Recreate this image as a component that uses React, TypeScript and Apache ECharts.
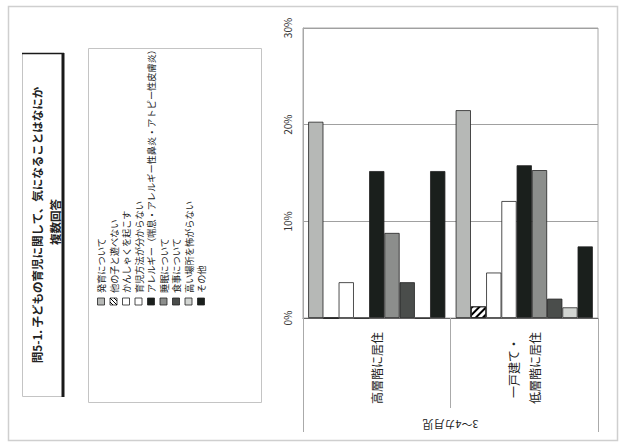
import React, { useEffect, useRef } from 'react';
import * as echarts from 'echarts';

const titleLine1 = '問5-1. 子どもの育児に関して、気になることはなにか';
const titleLine2 = '複数回答';

const categories = ['高層階に居住', '一戸建て・\n低層階に居住'];
const groupLabel = ['3～4カ月児'];

const seriesNames = [
  '発育について',
  '他の子と遊べない',
  'かんしゃくを起こす',
  '育児方法が分からない',
  'アレルギー（喘息・アレルギー性鼻炎・アトピー性皮膚炎）',
  '睡眠について',
  '食事について',
  '高い場所を怖がらない',
  'その他',
];

// values in %
const hatsuiku = [20.3, 21.5];
const asobenai = [0, 1.2];
const kanshaku = [3.7, 4.7];
const ikujiHouhou = [0, 12.1];
const allergy = [15.2, 15.8];
const suimin = [8.8, 15.3];
const shokuji = [3.7, 2.0];
const takaiBasho = [0, 1.1];
const sonota = [15.2, 7.4];

const seriesData = [hatsuiku, asobenai, kanshaku, ikujiHouhou, allergy, suimin, shokuji, takaiBasho, sonota];

const colors = ['#b6b8b6', '#ffffff', '#ffffff', '#ffffff', '#1a1f1c', '#8c8e8c', '#4a4d4b', '#d2d5d2', '#1a1f1c'];

const FONT = '"Noto Sans CJK JP", "Noto Sans", sans-serif';

export default function App() {
  const ref = useRef<HTMLDivElement>(null);
  useEffect(() => {
    if (!ref.current) return;
    const chart = echarts.init(ref.current, undefined, { renderer: 'svg' });

    const legendX0 = 101;
    const legendStep = 12.5;
    const legendGraphics: any[] = [];
    seriesNames.forEach((name, i) => {
      const x = legendX0 + i * legendStep;
      legendGraphics.push({
        type: 'rect',
        shape: { x: x - 3.5, y: 298, width: 7, height: 7 },
        style: { fill: colors[i], stroke: '#222', lineWidth: 0.8 },
      });
      if (i === 1) {
        legendGraphics.push({
          type: 'polyline',
          shape: { points: [[x + 0.5, 298], [x + 3.5, 301]] },
          style: { stroke: '#000', lineWidth: 1 },
        });
        legendGraphics.push({
          type: 'polyline',
          shape: { points: [[x - 3.5, 298], [x + 3.5, 305]] },
          style: { stroke: '#000', lineWidth: 1 },
        });
        legendGraphics.push({
          type: 'polyline',
          shape: { points: [[x - 3.5, 302], [x - 0.5, 305]] },
          style: { stroke: '#000', lineWidth: 1 },
        });
      }
      legendGraphics.push({
        type: 'text',
        x: x,
        y: 293,
        rotation: Math.PI / 2,
        style: {
          text: name,
          fontSize: 9.2,
          fontFamily: FONT,
          fill: '#222',
          align: 'left',
          verticalAlign: 'middle',
        },
      });
    });

    const option: any = {
      animation: false,
      backgroundColor: '#ffffff',
      grid: {
        left: 303,
        right: 23,
        top: 28,
        bottom: 129,
        show: true,
        borderColor: '#a8a8a8',
        borderWidth: 1,
        backgroundColor: '#ffffff',
        containLabel: false,
      },
      xAxis: [
        {
          type: 'category',
          data: categories,
          position: 'bottom',
          axisLine: { show: true, lineStyle: { color: '#666', width: 1 } },
          axisTick: { show: true, length: 90, interval: 0, lineStyle: { color: '#aaa' } },
          axisLabel: {
            interval: 0,
            rotate: 90,
            margin: 50,
            align: 'center',
            verticalAlign: 'middle',
            fontSize: 12,
            lineHeight: 21,
            color: '#222',
            fontFamily: FONT,
          },
        },
        {
          type: 'category',
          data: groupLabel,
          position: 'bottom',
          axisLine: { show: false },
          axisTick: { show: true, length: 114, lineStyle: { color: '#aaa' } },
          axisLabel: {
            rotate: 180,
            margin: 107,
            align: 'center',
            verticalAlign: 'middle',
            fontSize: 11,
            color: '#222',
            fontFamily: FONT,
          },
        },
      ],
      yAxis: {
        type: 'value',
        min: 0,
        max: 30,
        interval: 10,
        axisLine: { show: true, lineStyle: { color: '#a8a8a8' } },
        axisTick: { show: false },
        splitLine: { show: true, lineStyle: { color: '#a0a0a0', width: 1 } },
        axisLabel: {
          formatter: '{value}%',
          rotate: 90,
          margin: 16,
          align: 'center',
          verticalAlign: 'middle',
          fontSize: 10,
          color: '#333',
          fontFamily: FONT,
        },
      },
      series: seriesNames.map((name, i) => ({
        type: 'bar',
        name,
        data: seriesData[i],
        xAxisIndex: 0,
        barGap: '0%',
        barCategoryGap: '7%',
        itemStyle: Object.assign(
          { color: colors[i], borderColor: '#222', borderWidth: 0.8 },
          i === 1
            ? {
                decal: {
                  symbol: 'rect',
                  symbolSize: 1,
                  dashArrayX: [1, 0],
                  dashArrayY: [2, 3],
                  rotation: -Math.PI / 4,
                  color: '#000',
                  backgroundColor: '#fff',
                },
              }
            : {}
        ),
      })),
      graphic: [
        {
          type: 'rect',
          z: -10,
          shape: { x: 8.5, y: 6.5, width: 609, height: 434 },
          style: { fill: 'none', stroke: '#cfcfcf', lineWidth: 1.5 },
        },
        {
          type: 'rect',
          shape: { x: 22.5, y: 53.5, width: 40, height: 343 },
          style: { fill: '#fff', stroke: '#c4c4c4', lineWidth: 1 },
        },
        {
          type: 'line',
          shape: { x1: 22, y1: 53.5, x2: 64, y2: 53.5 },
          style: { stroke: '#1a1a1a', lineWidth: 1.5 },
        },
        {
          type: 'line',
          shape: { x1: 63, y1: 53, x2: 63, y2: 397 },
          style: { stroke: '#1a1a1a', lineWidth: 3 },
        },
        {
          type: 'text',
          x: 37,
          y: 225,
          rotation: Math.PI / 2,
          style: {
            text: titleLine1,
            fontSize: 11.5,
            fontWeight: 'bold',
            fontFamily: FONT,
            fill: '#222',
            align: 'center',
            verticalAlign: 'middle',
          },
        },
        {
          type: 'text',
          x: 55,
          y: 222,
          rotation: Math.PI / 2,
          style: {
            text: titleLine2,
            fontSize: 11.5,
            fontWeight: 'bold',
            fontFamily: FONT,
            fill: '#222',
            align: 'center',
            verticalAlign: 'middle',
          },
        },
        {
          type: 'rect',
          shape: { x: 88.5, y: 48.5, width: 173, height: 354 },
          style: { fill: '#fff', stroke: '#c4c4c4', lineWidth: 1 },
        },
        ...legendGraphics,
      ],
    };
    chart.setOption(option);
    return () => chart.dispose();
  }, []);
  return (
    <div
      ref={ref}
      style={{ position: 'absolute', left: 0, top: 0, width: 621, height: 447 }}
    />
  );
}
